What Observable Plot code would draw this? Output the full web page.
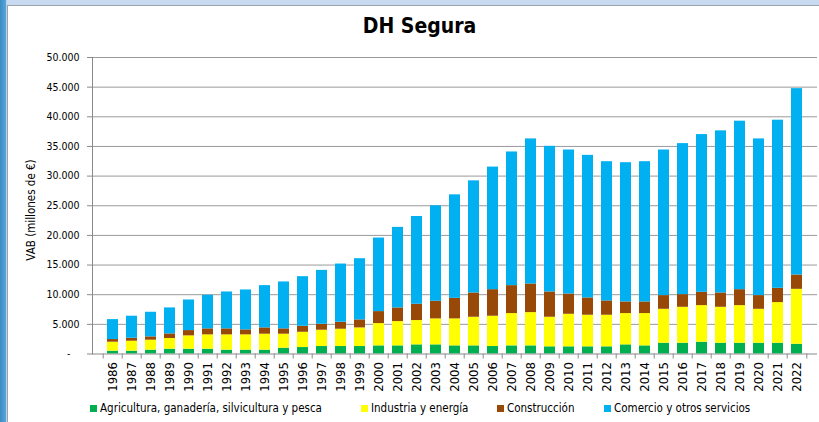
<!DOCTYPE html>
<html><head><meta charset="utf-8">
<script src="https://cdn.jsdelivr.net/npm/d3@7"></script>
<script src="https://cdn.jsdelivr.net/npm/@observablehq/plot@0.6"></script>
<style>
body{margin:0;background:#fff;}
#frame{position:relative;width:819px;height:422px;overflow:hidden;background:#fff;font-family:"DejaVu Sans Condensed","DejaVu Sans",sans-serif;font-stretch:condensed;color:#000;}
#topstrip{position:absolute;left:0;top:0;width:819px;height:5px;background:#c8daef;border-bottom:1px solid #9aa4b0;}
#leftstrip{position:absolute;left:0;top:0;width:6px;height:422px;background:linear-gradient(to right,#3a8cc4,#5aa6d6);border-right:1px solid #b5d3ea;}
#innerline{position:absolute;left:7px;top:5px;width:1px;height:417px;background:#9aa4b0;}
#title{position:absolute;left:0;width:819px;top:14px;text-align:center;font-size:21px;font-weight:bold;padding-left:20px;box-sizing:border-box;}
#ytitle{position:absolute;left:31px;top:210px;transform:translate(-50%,-50%) rotate(-90deg);font-size:11.5px;white-space:nowrap;}
#chart{position:absolute;left:0;top:45px;}
.leg{position:absolute;top:401px;font-size:11.5px;white-space:nowrap;display:flex;align-items:center;}
.leg span.sw{display:inline-block;width:7px;height:7px;margin-right:3px;}
</style></head>
<body>
<div id="frame">
  <div id="topstrip"></div>
  <div id="leftstrip"></div>
  <div id="innerline"></div>
  <div id="title">DH Segura</div>
  <div id="ytitle">VAB (millones de €)</div>
  <div id="chart"></div>
  <div id="legend"></div>
</div>
<script>
const years = [1986,1987,1988,1989,1990,1991,1992,1993,1994,1995,1996,1997,1998,1999,2000,2001,2002,2003,2004,2005,2006,2007,2008,2009,2010,2011,2012,2013,2014,2015,2016,2017,2018,2019,2020,2021,2022];
const agricultura  = [480,480,650,810,810,810,650,650,650,980,1090,1260,1260,1260,1370,1370,1540,1540,1370,1370,1260,1370,1370,1210,1210,1210,1210,1540,1370,1820,1820,1990,1820,1820,1820,1820,1650];
const industria    = [1510,1680,1680,1800,2250,2420,2580,2580,2690,2360,2580,2750,2920,3140,3760,4100,4100,4380,4550,4830,5110,5450,5610,4990,5490,5330,5330,5280,5450,5720,6060,6170,6060,6340,5720,6850,9260];
const construccion = [450,500,560,780,890,1010,1010,840,1060,900,1010,1010,1180,1350,2020,2300,2750,2970,3470,4090,4480,4710,4830,4260,3420,2910,2410,1960,1960,2310,2130,2250,2410,2690,2310,2410,2410];
const servicios    = [3360,3710,4150,4380,5160,5660,6220,6730,7130,7910,8360,9080,9810,10320,12400,13580,14800,16110,17450,18910,20670,22540,24460,24560,24280,24050,23480,23480,23650,24550,25470,26590,27340,28410,26420,28350,31430];
const sectors = ["Agricultura, ganadería, silvicultura y pesca","Industria y energía","Construcción","Comercio y otros servicios"];
const colors = ["#00b050","#ffff00","#984807","#00b0f0"];
const yTicks = [0,5000,10000,15000,20000,25000,30000,35000,40000,45000,50000];

const series = [agricultura, industria, construccion, servicios];
const data = years.flatMap((yr,i)=>series.map((arr,k)=>({year:yr, sector:sectors[k], value:arr[i]})));

const W = 819, H = 350, mT = 12, mB = 41.5, mL = 92, mR = 2;
const step = (W - mL - mR) / years.length;
const tickLen = 5 * 50000 / (H - mT - mB);
const fmt = d => d === 0 ? "-\u00a0\u00a0\u00a0" : d3.format(",")(d).replace(/,/g, ".");

const chart = Plot.plot({
  width: W, height: H, marginTop: mT, marginBottom: mB, marginLeft: mL, marginRight: mR,
  style: {fontFamily: "'DejaVu Sans', sans-serif", background: "transparent", overflow: "visible"},
  x: {domain: years, padding: 0.43, axis: null, label: null},
  y: {domain: [0, 50000], axis: null, label: null},
  color: {domain: sectors, range: colors},
  marks: [
    Plot.gridY(yTicks.slice(1), {stroke: "#9a9a9a", strokeOpacity: 1, strokeWidth: 1}),
    Plot.barY(data, {x: "year", y: "value", fill: "sector", order: sectors}),
    Plot.ruleY([0], {stroke: "#8a8a8a"}),
    Plot.frame({anchor: "left", stroke: "#8a8a8a"}),
    Plot.axisY(yTicks, {label: null, tickFormat: fmt, tickSize: 5, tickPadding: 8, stroke: "#8a8a8a", fontSize: 10.5, fill: "#000"}),
    Plot.ruleX(years, {x: d => d, dx: -step/2, y1: 0, y2: -tickLen, stroke: "#8a8a8a", clip: false}),
    Plot.ruleX([years[years.length-1]], {x: d => d, dx: step/2, y1: 0, y2: -tickLen, stroke: "#8a8a8a"}),
    Plot.axisX(years, {label: null, tickFormat: d => String(d), tickSize: 0, tickRotate: -90, tickPadding: 8, fontSize: 13, fill: "#000", fontFamily: "'DejaVu Sans Condensed','DejaVu Sans',sans-serif"})
  ]
});
document.getElementById("chart").appendChild(chart);

const legendX = [90, 361, 497, 604];
const legend = document.getElementById("legend");
sectors.forEach((s, k) => {
  const d = document.createElement("div");
  d.className = "leg";
  d.style.left = legendX[k] + "px";
  d.innerHTML = `<span class="sw" style="background:${colors[k]}"></span><span>${s}</span>`;
  legend.appendChild(d);
});
</script>
</body></html>
